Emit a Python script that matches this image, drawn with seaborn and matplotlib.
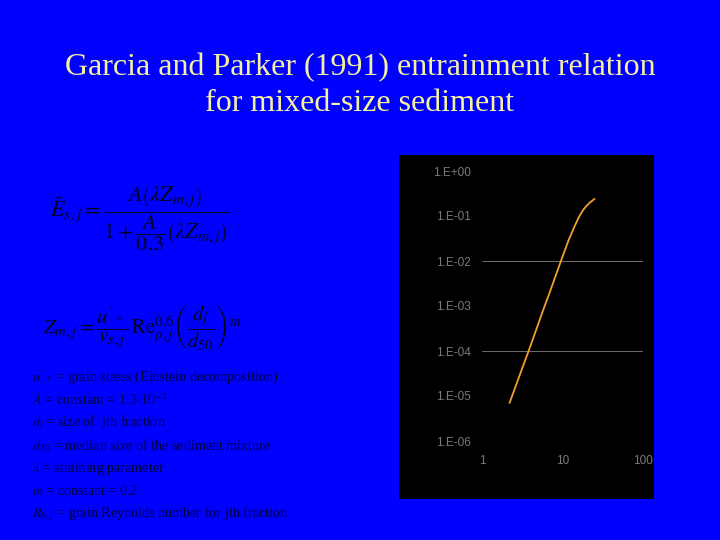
import matplotlib
matplotlib.use("Agg")
import matplotlib.pyplot as plt
import seaborn as sns
import pandas as pd
from matplotlib.patches import Rectangle

# values: normalized bed shear (x) vs entrainment rate (y)
z_values = [2.2, 2.6, 3.0, 3.5, 4.0, 5.0, 6.0, 7.0, 8.0, 10.0, 12.0, 14.0, 16.0, 18.0, 20.0, 22.0, 25.0]
e_values = [7.0e-6, 1.6e-5, 3.2e-5, 6.8e-5, 1.3e-4, 4.0e-4, 1.0e-3, 2.1e-3, 4.1e-3,
            1.25e-2, 3.0e-2, 5.7e-2, 9.5e-2, 0.135, 0.17, 0.20, 0.24]
y_ticks = [1e-6, 1e-5, 1e-4, 1e-3, 1e-2, 1e-1, 1e0]
y_labels = ["1.E-06", "1.E-05", "1.E-04", "1.E-03", "1.E-02", "1.E-01", "1.E+00"]
x_ticks = [1, 10, 100]
x_labels = ["1", "10", "100"]
legend_lines = [
    r"$u'_*$ = grain stress (Einstein decomposition)",
    r"$A$ = constant = 1.3$\cdot$10$^{-7}$",
    r"$d_j$ = size of  jth fraction",
    r"$d_{50}$ = median size of the sediment mixture",
    r"$\lambda$ = straining parameter",
    r"$m$ = constant = 0.2",
    r"$R_{p,j}$ = grain Reynolds number for jth fraction",
]

sns.set_theme(style="dark")
plt.rcParams["mathtext.fontset"] = "stix"
plt.rcParams["font.family"] = ["Liberation Serif", "DejaVu Serif"]

blue = "#0000FF"
fig = plt.figure(figsize=(7.2, 5.4), dpi=100)
fig.patch.set_facecolor(blue)

# title
fig.text(0.5, 0.841, "Garcia and Parker (1991) entrainment relation\nfor mixed-size sediment",
         ha="center", va="center", fontsize=23, color="#F5F0A0", linespacing=1.3)

# equations
ink = "#000020"
fig.text(0.07, 0.595,
         r"$\bar{E}_{s,j} = \dfrac{A\left(\lambda Z_{m,j}\right)}{1+\dfrac{A}{0.3}\left(\lambda Z_{m,j}\right)}$",
         fontsize=16, color=ink, va="center")
fig.text(0.06, 0.395,
         r"$Z_{m,j} = \dfrac{u'_*}{v_{s,j}}\,\mathrm{Re}_{p,j}^{0.6}\left(\dfrac{d_j}{d_{50}}\right)^{m}$",
         fontsize=15, color=ink, va="center")

y0 = 0.300
for i, line in enumerate(legend_lines):
    fig.text(0.045, y0 - i * 0.0418, line, fontsize=10.2, color="#000040", va="center")

# black chart panel
fig.patches.append(Rectangle((399 / 720, 1 - 499 / 540), 255 / 720, 344 / 540,
                             transform=fig.transFigure, facecolor="black",
                             edgecolor="none", zorder=-1))

ax = fig.add_axes([482 / 720, 1 - 441 / 540, 161 / 720, 270 / 540])
ax.set_facecolor("black")
df = pd.DataFrame({"Z": z_values, "E": e_values})
sns.lineplot(data=df, x="Z", y="E", ax=ax, color="#F0A030", linewidth=1.3)
ax.set_xscale("log")
ax.set_yscale("log")
ax.set_xlim(1, 100)
ax.set_ylim(1e-6, 1)
ax.set_xticks(x_ticks)
ax.set_xticklabels(x_labels)
ax.set_yticks(y_ticks)
ax.set_yticklabels(y_labels)
ax.minorticks_off()
ax.set_xlabel("")
ax.set_ylabel("")
ax.tick_params(colors="#7a7a7a", labelsize=8.5, length=0)
ax.tick_params(axis="x", pad=10)
ax.tick_params(axis="y", pad=8)
for lab in ax.get_xticklabels() + ax.get_yticklabels():
    lab.set_fontfamily("Liberation Sans")
for s in ax.spines.values():
    s.set_visible(False)
ax.grid(False)
for v in (1e-2, 1e-4):
    ax.axhline(v, color="#808080", linewidth=0.6, zorder=0)

fig.savefig("out.png", dpi=100, facecolor=fig.get_facecolor())
